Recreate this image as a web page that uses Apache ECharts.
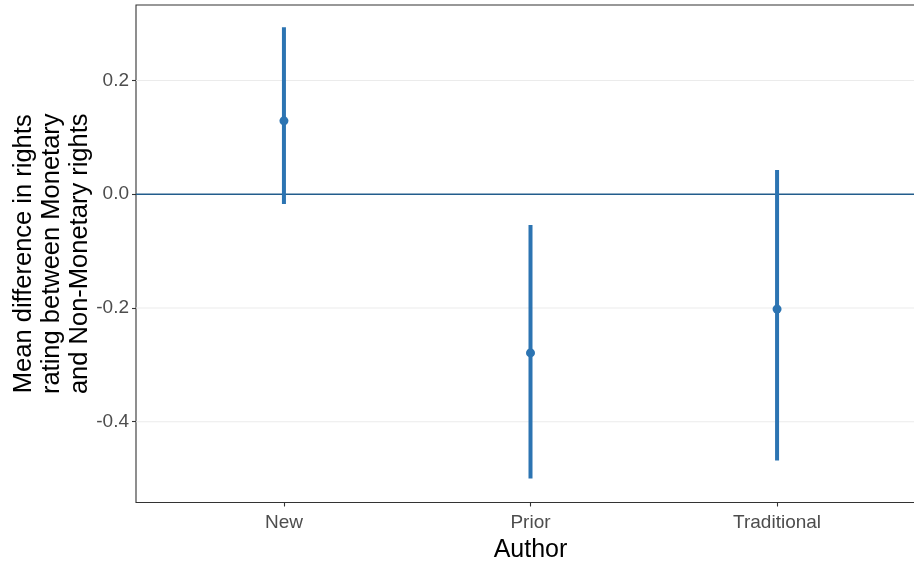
<!DOCTYPE html>
<html><head><meta charset="utf-8">
<script src="https://cdn.jsdelivr.net/npm/echarts@6/dist/echarts.min.js"></script>
<style>html,body{margin:0;padding:0;background:#fff}#c{width:914px;height:562px}</style>
</head><body><div id="c"></div>
<script>
const categories = ['New', 'Prior', 'Traditional'];
const means = [0.129, -0.279, -0.202];
const lowers = [-0.017, -0.5, -0.468];
const uppers = [0.2935, -0.054, 0.0427];
const yTicks = [-0.4, -0.2, 0.0, 0.2];
const gridTicks = [-0.4, -0.2, 0.2];
const refLine = [0];

const color = '#2c74b2';
const chart = echarts.init(document.getElementById('c'));

function hline(col, w) {
  return function (params, api) {
    const cs = params.coordSys;
    const y = api.coord([1, api.value(0)])[1];
    return { type: 'line', shape: { x1: cs.x, y1: y, x2: cs.x + cs.width, y2: y },
      style: { stroke: col, lineWidth: w } };
  };
}

chart.setOption({
  animation: false,
  grid: { left: 136, top: 5, width: 789, height: 497.5, containLabel: false, outerBoundsMode: 'none',
    show: true, borderColor: '#333', borderWidth: 1.1, backgroundColor: '#fff' },
  xAxis: {
    type: 'value', min: 0.4, max: 3.6,
    name: 'Author', nameLocation: 'middle', nameGap: 35, nameMoveOverlap: false,
    nameTextStyle: { fontFamily: 'Liberation Sans', fontSize: 25, color: '#000' },
    axisLine: { show: false, onZero: false },
    splitLine: { show: false },
    axisTick: { show: true, customValues: [1, 2, 3], length: 4, lineStyle: { color: '#333', width: 1.1 } },
    axisLabel: { customValues: [1, 2, 3], margin: 11, fontFamily: 'Liberation Sans', fontSize: 19, color: '#4d4d4d',
      formatter: v => categories[Math.round(v) - 1] }
  },
  yAxis: {
    type: 'value', min: -0.542, max: 0.3327,
    name: 'Mean difference in rights\nrating between Monetary\nand Non-Monetary rights',
    nameLocation: 'middle', nameGap: 42, nameRotate: 90, nameMoveOverlap: false,
    nameTextStyle: { fontFamily: 'Liberation Sans', fontSize: 25.5, lineHeight: 28, color: '#000', align: 'center' },
    axisLine: { show: false, onZero: false },
    splitLine: { show: false },
    axisTick: { show: true, customValues: yTicks, length: 4, lineStyle: { color: '#333', width: 1.1 } },
    axisLabel: { customValues: yTicks, margin: 7, fontFamily: 'Liberation Sans', fontSize: 19, color: '#4d4d4d',
      formatter: v => v.toFixed(1) }
  },
  series: [
    { type: 'custom', z: 1, data: gridTicks, renderItem: hline('#ebebeb', 1.2), silent: true },
    { type: 'custom', z: 2, data: refLine, renderItem: hline('#225d8c', 1.6), silent: true },
    { type: 'custom', z: 3,
      data: categories.map((c, i) => [i + 1, lowers[i], uppers[i]]),
      renderItem: function (params, api) {
        const p1 = api.coord([api.value(0), api.value(1)]);
        const p2 = api.coord([api.value(0), api.value(2)]);
        return { type: 'line', shape: { x1: p1[0], y1: p1[1], x2: p2[0], y2: p2[1] },
          style: { stroke: color, lineWidth: 4 } };
      } },
    { type: 'scatter', z: 4, symbolSize: 9, itemStyle: { color: color, opacity: 1 },
      data: categories.map((c, i) => [i + 1, means[i]]) }
  ]
});
</script></body></html>
